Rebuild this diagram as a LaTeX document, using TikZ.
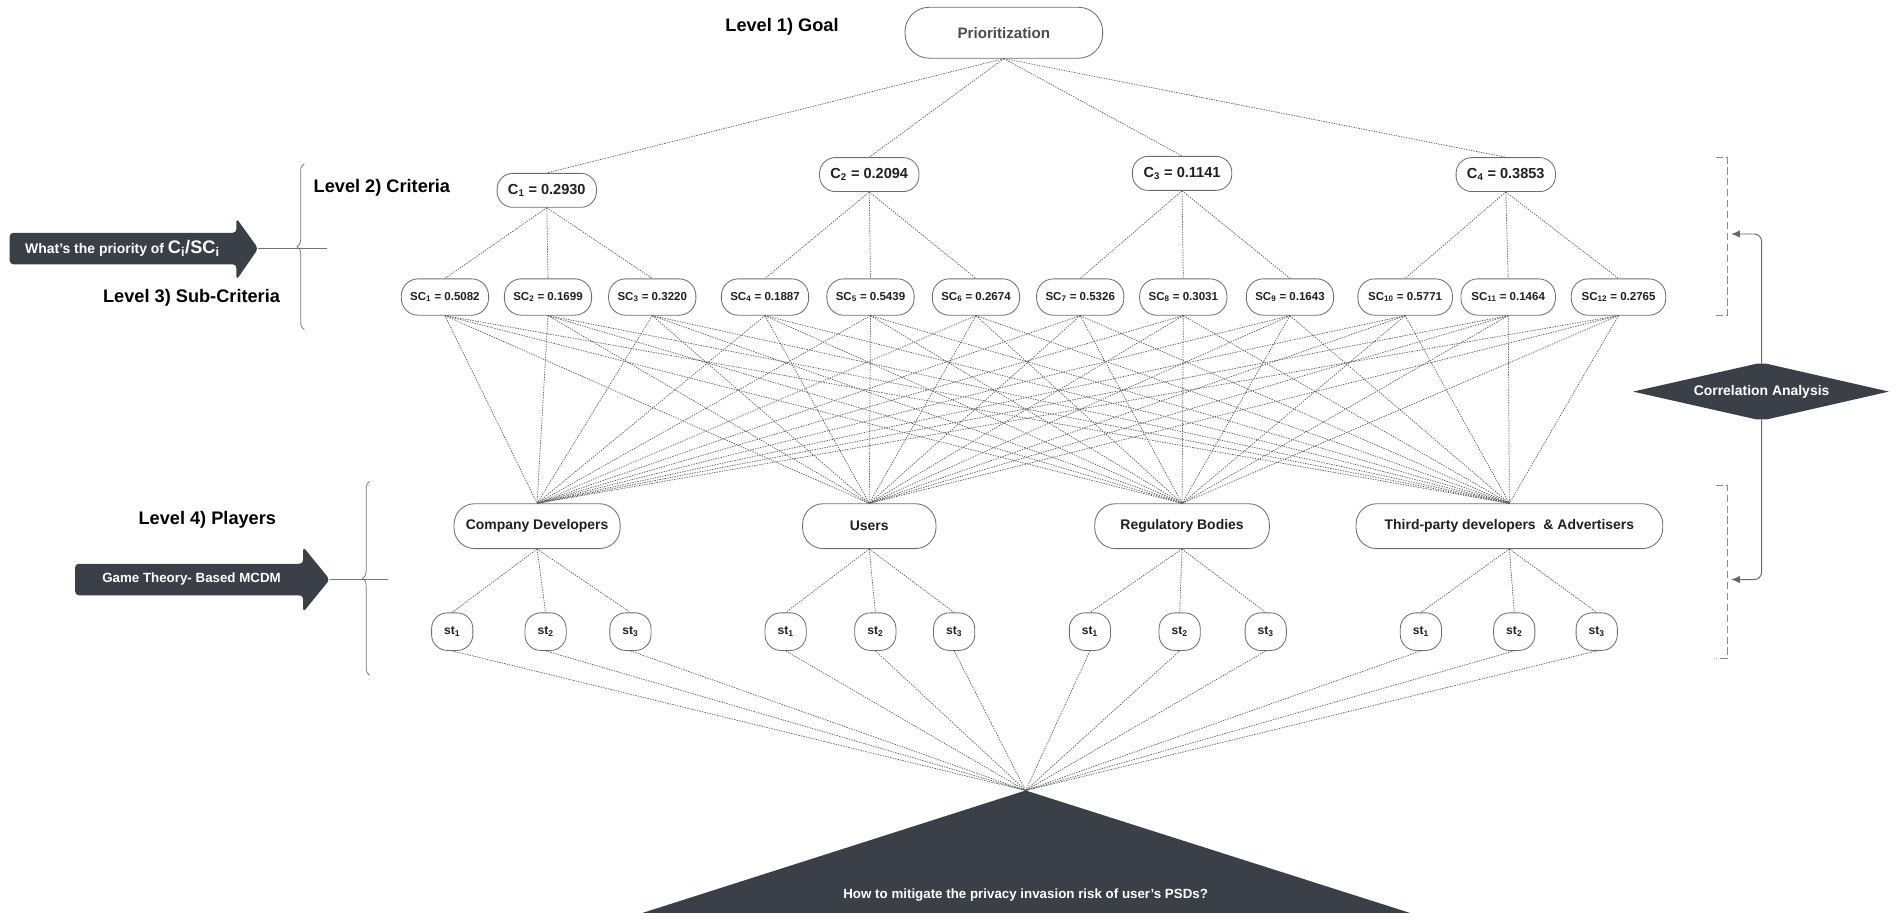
\documentclass[tikz,border=0pt]{standalone}
\usepackage{fontspec}
\setmainfont{Liberation Sans}
\usetikzlibrary{decorations.pathreplacing,arrows.meta,calc}
\definecolor{dk}{HTML}{3A3F48}
\definecolor{bd}{HTML}{6E6E6E}
\begin{document}
\begin{tikzpicture}[x=1pt,y=-1pt,
  box/.style={draw=bd, line width=0.7pt, inner sep=0pt, align=center, text=black!88},
  goalnode/.style={box, minimum width=163pt, minimum height=42pt, rounded corners=20pt, text=black!70, font=\bfseries\fontsize{12.5}{15}\selectfont},
  cnode/.style={box, minimum width=82pt, minimum height=28pt, rounded corners=13pt, font=\bfseries\fontsize{12}{14}\selectfont},
  scnode/.style={box, minimum width=#1, minimum height=30pt, rounded corners=14pt, font=\bfseries\fontsize{9.5}{11}\selectfont},
  scnode/.default=72pt,
  pnode/.style={box, minimum width=#1, minimum height=37pt, rounded corners=17pt, font=\bfseries\fontsize{11.5}{14}\selectfont},
  stnode/.style={box, minimum width=34pt, minimum height=31pt, rounded corners=13pt, font=\bfseries\fontsize{10}{12}\selectfont},
  lvl/.style={font=\bfseries\fontsize{15}{18}\selectfont, text=black},
  wtext/.style={text=white, font=\bfseries\fontsize{#1}{14}\selectfont},
  conn/.style={draw=black!65, line width=0.6pt, dash pattern=on 1.1pt off 1pt},
  thin/.style={draw=black!55, line width=0.6pt}
]
\useasboundingbox (0,0) rectangle (1568,761);

% Level labels
\node[lvl] (L1) at (645,22) {Level 1) Goal};
\node[lvl] (L2) at (315,155) {Level 2) Criteria};
\node[lvl] (L3) at (158,246) {Level 3) Sub-Criteria};
\node[lvl] (L4) at (171,429) {Level 4) Players};

% Goal
\node[goalnode] (P) at (828,27) {Prioritization};

% Criteria
\node[cnode] (C1) at (451,157) {C\textsubscript{1} = 0.2930};
\node[cnode] (C2) at (717,144) {C\textsubscript{2} = 0.2094};
\node[cnode] (C3) at (975,143) {C\textsubscript{3} = 0.1141};
\node[cnode] (C4) at (1242,144) {C\textsubscript{4} = 0.3853};

% Sub-criteria
\foreach \i/\x/\v in {1/367/0.5082, 2/452/0.1699, 3/538/0.3220, 4/631/0.1887, 5/718/0.5439, 6/805/0.2674, 7/891/0.5326, 8/976/0.3031, 9/1064/0.1643}
  \node[scnode] (SC\i) at (\x,245) {SC\textsubscript{\i} = \v};
\foreach \i/\x/\v in {10/1159/0.5771, 11/1244/0.1464, 12/1335/0.2765}
  \node[scnode=78pt] (SC\i) at (\x,245) {SC\textsubscript{\i} = \v};

% Players
\node[pnode=137pt] (PL1) at (443,434) {Company Developers};
\node[pnode=110pt] (PL2) at (717,434) {Users};
\node[pnode=144pt] (PL3) at (975,434) {Regulatory Bodies};
\node[pnode=253pt] (PL4) at (1245,434) {Third-party developers \ \& Advertisers};

% Strategies
\foreach \p/\a/\b/\c in {1/373/450/520, 2/648/722/787, 3/899/973/1044, 4/1172/1249/1317} {
  \node[stnode] (st\p-1) at (\a,521) {st\textsubscript{1}};
  \node[stnode] (st\p-2) at (\b,521) {st\textsubscript{2}};
  \node[stnode] (st\p-3) at (\c,521) {st\textsubscript{3}};
}

% Bottom triangle
\coordinate (apex) at (846,652);
\coordinate (baseR) at (1163,753);
\coordinate (baseL) at (530,753);
\fill[dk] (apex) -- (baseR) -- (baseL) -- cycle;
\node[wtext=11] (Q) at (846,738) {How to mitigate the privacy invasion risk of user's PSDs?};

% Connectors
\foreach \c/\a/\b/\d in {1/1/2/3, 2/4/5/6, 3/7/8/9, 4/10/11/12} {
  \draw[conn] (P.south) -- (C\c.north);
  \draw[conn] (C\c.south) -- (SC\a.north);
  \draw[conn] (C\c.south) -- (SC\b.north);
  \draw[conn] (C\c.south) -- (SC\d.north);
}
\foreach \s in {1,...,12}
  \foreach \p in {1,...,4}
    \draw[conn] (SC\s.south) -- (PL\p.north);
\foreach \p in {1,...,4}
  \foreach \k in {1,2,3} {
    \draw[conn] (PL\p.south) -- (st\p-\k.north);
    \draw[conn] (st\p-\k.south) -- (apex);
  }

% Left arrows and braces
\coordinate (A1tip) at (213,205);
\fill[dk, rounded corners=3pt] (8,192) -- (195,192) -- (195,180) -- (A1tip) -- (195,231) -- (195,218) -- (8,218) -- cycle;
\node[text=white, font=\bfseries\fontsize{11.5}{14}\selectfont] (A1) at (101,205) {What's the priority of {\fontsize{15}{16}\selectfont C\textsubscript{i}/SC\textsubscript{i}}};
\coordinate (B1end) at (270,205);
\draw[thin] (A1tip) -- (B1end);
\draw[thin, decorate, decoration={brace, amplitude=6pt}] (251,272) -- (251,135);

\coordinate (A2tip) at (272,478);
\fill[dk, rounded corners=3pt] (62,465) -- (250,465) -- (250,451) -- (A2tip) -- (250,505) -- (250,491) -- (62,491) -- cycle;
\node[wtext=11] (A2) at (158,478) {Game Theory- Based MCDM};
\coordinate (B2end) at (320,478);
\draw[thin] (A2tip) -- (B2end);
\draw[thin, decorate, decoration={brace, amplitude=6pt}] (305,557) -- (305,397);

% Right side
\draw[draw=black!45, line width=0.6pt, dash pattern=on 6pt off 3pt] (1415,130) -- (1425,130) -- (1425,260) -- (1415,260);
\draw[draw=black!45, line width=0.6pt, dash pattern=on 6pt off 3pt] (1415,400) -- (1425,400) -- (1425,543) -- (1415,543);
\coordinate (CAt) at (1453,300);
\coordinate (CAb) at (1453,346);
\fill[dk] (1347,323) -- (1449,300) -- (1457,300) -- (1558,323) -- (1457,346) -- (1449,346) -- cycle;
\node[wtext=11.5] (CA) at (1453,323) {Correlation Analysis};
\coordinate (T1) at (1428,193);
\coordinate (T2) at (1428,478);
\draw[draw=black!60, line width=0.8pt, rounded corners=6pt, -{Latex[length=7pt,width=6pt]}] (CAt) |- (T1);
\draw[draw=black!60, line width=0.8pt, rounded corners=6pt, -{Latex[length=7pt,width=6pt]}] (CAb) |- (T2);
\end{tikzpicture}
\end{document}
